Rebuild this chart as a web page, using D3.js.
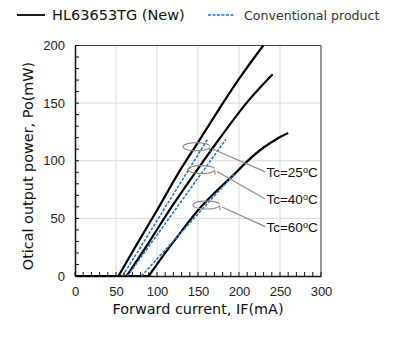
<!DOCTYPE html>
<html>
<head>
<meta charset="utf-8">
<script src="https://cdn.jsdelivr.net/npm/d3@7"></script>
<style>
  body { margin: 0; background: #fff; }
  svg { display: block; }
  .tick text { font-family: "Liberation Sans", Arial, sans-serif; font-size: 13px; fill: #222; }
  .title { font-family: "DejaVu Sans", sans-serif; font-size: 14.4px; fill: #111; }
  .tc { font-family: "Liberation Sans", Arial, sans-serif; font-size: 13.5px; fill: #111; }
</style>
</head>
<body>
<div id="chart"></div>
<script>
// ---------------- data ----------------
// HL63653TG (New) - solid black
var ifNew25 = [0, 53, 75, 100, 125, 150, 175, 200, 229.6];
var poNew25 = [0, 0, 27, 57, 88, 116, 144, 171, 200];
var ifNew40 = [0, 63, 90, 116, 145, 175, 209, 241];
var poNew40 = [0, 0, 29, 58, 88, 118, 150, 175];
var ifNew60 = [0, 90, 110, 130, 150, 170, 191, 210, 230, 245, 260];
var poNew60 = [0, 0, 20, 39, 57, 72, 86, 99.5, 111.5, 118.5, 124];

// Conventional product - blue dashed
var ifConv25 = [58, 162];
var poConv25 = [0, 119];
var ifConv40 = [64, 184];
var poConv40 = [0, 118.5];
var ifConv60 = [81, 195];
var poConv60 = [0, 89];

var xTicks = [0, 50, 100, 150, 200, 250, 300];
var yTicks = [0, 50, 100, 150, 200];
var tcLabels = ["25", "40", "60"];
// annotation loops (centre in data units) and label baseline
var loopX = [148.2, 154.3, 160.4];
var loopY = [112.2, 92.4, 61.6];
var labelY = [86, 62.5, 38.5];

// ---------------- svg ----------------
var svgWidth = 402, svgHeight = 340;
var svg = d3.select("#chart").append("svg")
  .attr("width", svgWidth)
  .attr("height", svgHeight);

var x = d3.scaleLinear().domain([0, 300]).range([75, 321]);
var y = d3.scaleLinear().domain([0, 200]).range([276, 45.5]);

// gridlines
svg.append("g").selectAll("line")
  .data(xTicks.slice(1))
  .enter().append("line")
  .attr("x1", d => x(d)).attr("x2", d => x(d))
  .attr("y1", y(0)).attr("y2", y(200))
  .attr("stroke", "#d9d9d9").attr("stroke-width", 1);

svg.append("g").selectAll("line")
  .data(yTicks.slice(1))
  .enter().append("line")
  .attr("x1", x(0)).attr("x2", x(300))
  .attr("y1", d => y(d)).attr("y2", d => y(d))
  .attr("stroke", "#d9d9d9").attr("stroke-width", 1);

// frame top/right
svg.append("path")
  .attr("d", `M${x(0)},${y(200)}H${x(300)}V${y(0)}`)
  .attr("fill", "none").attr("stroke", "#444").attr("stroke-width", 1);

// minor ticks (inside)
svg.append("g").selectAll("line")
  .data(d3.range(0, 301, 10))
  .enter().append("line")
  .attr("x1", d => x(d)).attr("x2", d => x(d))
  .attr("y1", y(0)).attr("y2", y(0) - 4)
  .attr("stroke", "#111").attr("stroke-width", 1);
svg.append("g").selectAll("line")
  .data(d3.range(0, 201, 10))
  .enter().append("line")
  .attr("x1", x(0)).attr("x2", x(0) + 4)
  .attr("y1", d => y(d)).attr("y2", d => y(d))
  .attr("stroke", "#111").attr("stroke-width", 1);

// axes
var bottomAxis = d3.axisBottom(x).tickValues(xTicks).tickSize(0).tickPadding(11);
var leftAxis = d3.axisLeft(y).tickValues(yTicks).tickSize(0).tickPadding(10);

var xAxis = svg.append("g")
  .attr("transform", `translate(0, ${y(0)})`)
  .call(bottomAxis);
var yAxis = svg.append("g")
  .attr("transform", `translate(${x(0)}, 0)`)
  .call(leftAxis);
xAxis.select(".domain").attr("stroke", "#111").attr("stroke-width", 1.5);
yAxis.select(".domain").attr("stroke", "#111").attr("stroke-width", 1.5);

// curves
function pairs(xs, ys) { return xs.map((v, i) => [v, ys[i]]); }

var curveLine = d3.line()
  .x(d => x(d[0])).y(d => y(d[1]))
  .curve(d3.curveMonotoneX);

var straight = d3.line()
  .x(d => x(d[0])).y(d => y(d[1]));

[[ifNew25, poNew25], [ifNew40, poNew40], [ifNew60, poNew60]].forEach(function(s) {
  var pts = pairs(s[0], s[1]);
  // flat part below threshold, then the rising part (sharp corner at threshold)
  svg.append("path")
    .datum(pts.slice(0, 2))
    .attr("d", straight)
    .attr("fill", "none").attr("stroke", "#000").attr("stroke-width", 2.2);
  svg.append("path")
    .datum(pts.slice(1))
    .attr("d", curveLine)
    .attr("fill", "none").attr("stroke", "#000").attr("stroke-width", 2.2);
});

[[ifConv25, poConv25], [ifConv40, poConv40], [ifConv60, poConv60]].forEach(function(s) {
  svg.append("path")
    .datum(pairs(s[0], s[1]))
    .attr("d", straight)
    .attr("fill", "none")
    .attr("stroke", "#1a73d0")
    .attr("stroke-width", 1.5)
    .attr("stroke-dasharray", "3,1.5");
});

// annotation loops + leaders + labels
var ann = svg.append("g");
tcLabels.forEach(function(t, i) {
  var cx = x(loopX[i]), cy = y(loopY[i]);
  var rx = 13.5, ry = 4;
  // open loop, small hook at lower right
  var a0 = 0.3, a1 = 2 * Math.PI - 0.25;
  var p = d3.path();
  var steps = 40;
  for (var k = 0; k <= steps; k++) {
    var a = a0 + (a1 - a0) * k / steps;
    var px = cx + rx * Math.cos(a), py = cy - ry * Math.sin(a);
    if (k === 0) p.moveTo(px, py); else p.lineTo(px, py);
  }
  p.lineTo(cx + rx, cy + ry + 1);
  ann.append("path").attr("d", p.toString())
    .attr("fill", "none").attr("stroke", "#8c8c8c").attr("stroke-width", 1.2);
  ann.append("line")
    .attr("x1", cx + rx + 2).attr("y1", cy + 2)
    .attr("x2", x(232)).attr("y2", y(labelY[i]) - 5)
    .attr("stroke", "#8c8c8c").attr("stroke-width", 1.2);
  var txt = ann.append("text").attr("class", "tc")
    .attr("x", x(233.5)).attr("y", y(labelY[i]));
  txt.append("tspan").text("Tc=" + t);
  txt.append("tspan").attr("font-size", "9px").attr("dy", -4).text("o");
  txt.append("tspan").attr("dy", 4).text("C");
});

// axis titles
svg.append("text").attr("class", "title")
  .attr("x", 198).attr("y", 314)
  .attr("text-anchor", "middle")
  .text("Forward current, IF(mA)");

svg.append("text").attr("class", "title")
  .attr("transform", "rotate(-90)")
  .attr("x", -166).attr("y", 33)
  .attr("text-anchor", "middle")
  .text("Otical output power, Po(mW)");

// legend
var legend = svg.append("g");
legend.append("line")
  .attr("x1", 17).attr("x2", 45).attr("y1", 15).attr("y2", 15)
  .attr("stroke", "#000").attr("stroke-width", 1.8);
legend.append("text").attr("class", "title")
  .attr("x", 52).attr("y", 20).style("font-size", "14.5px")
  .text("HL63653TG (New)");
legend.append("line")
  .attr("x1", 208).attr("x2", 235).attr("y1", 15).attr("y2", 15)
  .attr("stroke", "#1a73d0").attr("stroke-width", 1.4)
  .attr("stroke-dasharray", "3,1.5");
legend.append("text").attr("class", "title")
  .attr("x", 244).attr("y", 20).style("font-size", "12.6px").style("fill", "#333")
  .text("Conventional product");
</script>
</body>
</html>
